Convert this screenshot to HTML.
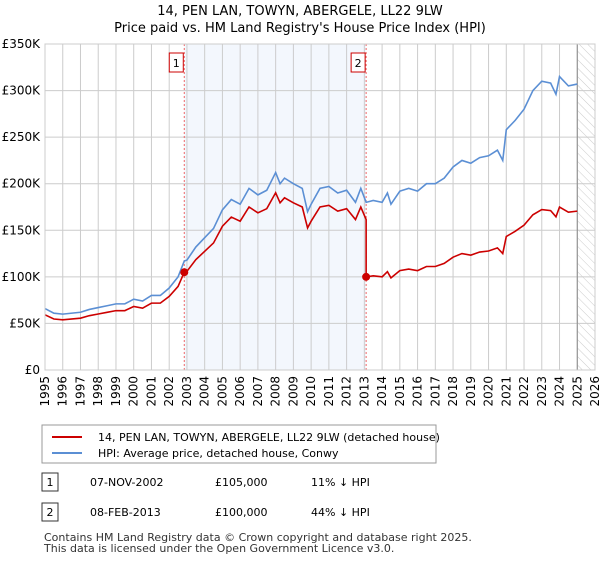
<!DOCTYPE html>
<html><head><meta charset="utf-8"><style>
body{margin:0;background:#fff;font-family:"Liberation Sans","DejaVu Sans",sans-serif;}
svg text{font-family:"DejaVu Sans","Liberation Sans",sans-serif;}
</style></head><body>
<svg id="c" width="600" height="560">
<defs><pattern id="hatch" width="6" height="6" patternUnits="userSpaceOnUse" patternTransform="rotate(-45)"><line x1="0" y1="0" x2="0" y2="6" stroke="#ccc" stroke-width="1"/></pattern></defs>
<text x="300" y="15" text-anchor="middle" font-size="13">14, PEN LAN, TOWYN, ABERGELE, LL22 9LW</text>
<text x="300" y="32" text-anchor="middle" font-size="13">Price paid vs. HM Land Registry's House Price Index (HPI)</text>
<g id="plot"></g>
<rect x="42" y="425" width="394" height="38" fill="#fff" stroke="#999"/>
<line x1="52" y1="437" x2="82" y2="437" stroke="#cc0000" stroke-width="2"/>
<text x="98" y="441" font-size="11">14, PEN LAN, TOWYN, ABERGELE, LL22 9LW (detached house)</text>
<line x1="52" y1="453" x2="82" y2="453" stroke="#5b8fd4" stroke-width="2"/>
<text x="98" y="457" font-size="11">HPI: Average price, detached house, Conwy</text>
<g font-size="11">
<rect x="42" y="473" width="16" height="18" fill="#fff" stroke="#333"/><text x="50" y="486" text-anchor="middle">1</text>
<text x="90" y="486">07-NOV-2002</text><text x="215" y="486">£105,000</text><text x="311" y="486">11% ↓ HPI</text>
<rect x="42" y="503" width="16" height="18" fill="#fff" stroke="#333"/><text x="50" y="516" text-anchor="middle">2</text>
<text x="90" y="516">08-FEB-2013</text><text x="215" y="516">£100,000</text><text x="311" y="516">44% ↓ HPI</text>
</g>
<text x="44" y="541" font-size="11" fill="#333">Contains HM Land Registry data © Crown copyright and database right 2025.</text>
<text x="44" y="552" font-size="11" fill="#333">This data is licensed under the Open Government Licence v3.0.</text>
</svg>
<script>
const hpiYears=[1995,1995.5,1996,1997,1997.5,1998,1998.5,1999,1999.5,2000,2000.5,2001,2001.5,2002,2002.5,2002.85,2003,2003.5,2004,2004.5,2005,2005.5,2006,2006.5,2007,2007.5,2008,2008.25,2008.5,2009,2009.5,2009.8,2010,2010.5,2011,2011.5,2012,2012.5,2012.8,2013.1,2013.5,2014,2014.3,2014.5,2015,2015.5,2016,2016.5,2017,2017.5,2018,2018.5,2019,2019.5,2020,2020.5,2020.8,2021,2021.5,2022,2022.5,2023,2023.5,2023.8,2024,2024.5,2025];
const hpiValues=[66,61,60,62,65,67,69,71,71,76,74,80,80,88,100,117,118,132,142,152,172,183,178,195,188,193,212,200,206,200,195,170,178,195,197,190,193,180,195,180,182,180,190,178,192,195,192,200,200,206,218,225,222,228,230,236,225,258,268,280,300,310,308,296,315,305,307];
const saleYears=[2002.85,2013.1];
const salePrices=[105,100];
const yTicks=[0,50,100,150,200,250,300,350];
const yTickLabels=["£0","£50K","£100K","£150K","£200K","£250K","£300K","£350K"];
const xTicks=[1995,1996,1997,1998,1999,2000,2001,2002,2003,2004,2005,2006,2007,2008,2009,2010,2011,2012,2013,2014,2015,2016,2017,2018,2019,2020,2021,2022,2023,2024,2025,2026];
const X0=45,X1=595,Y0=370,Y1=44;
const xs=y=>X0+(y-1995)/(2026-1995)*(X1-X0);
const ys=v=>Y0-v/350*(Y0-Y1);
const NS="http://www.w3.org/2000/svg";
const g=document.getElementById('plot');
function mk(t,a,p){const e=document.createElementNS(NS,t);for(const k in a)e.setAttribute(k,a[k]);(p||g).appendChild(e);return e;}
function hpiAt(y){for(let i=0;i<hpiYears.length-1;i++){if(y<=hpiYears[i+1]){const t=(y-hpiYears[i])/(hpiYears[i+1]-hpiYears[i]);return hpiValues[i]+t*(hpiValues[i+1]-hpiValues[i]);}}return hpiValues[hpiValues.length-1];}
let e=mk('rect',{x:xs(saleYears[0]),y:Y1,width:xs(saleYears[1])-xs(saleYears[0]),height:Y0-Y1,fill:'#eef3fc',opacity:0.7});

e=mk('rect',{x:xs(2025),y:Y1,width:X1-xs(2025),height:Y0-Y1,fill:'url(#hatch)'});

xTicks.forEach(t=>{const l=mk('line',{x1:xs(t),x2:xs(t),y1:Y1,y2:Y0,stroke:'#ccc'});

const tx=mk('text',{x:0,y:0,'font-size':12,'text-anchor':'end',transform:`translate(${xs(t)+4},${Y0+6}) rotate(-90)`});tx.textContent=t;
});
yTicks.forEach((t,i)=>{const l=mk('line',{x1:X0,x2:X1,y1:ys(t),y2:ys(t),stroke:'#ccc'});

const tx=mk('text',{x:X0-5,y:ys(t)+4,'font-size':12,'text-anchor':'end'});tx.textContent=yTickLabels[i];
});
e=mk('line',{x1:xs(2025),x2:xs(2025),y1:Y1,y2:Y0,stroke:'#888'});

saleYears.forEach((s,i)=>{const l=mk('line',{x1:xs(s),x2:xs(s),y1:Y1,y2:Y0,stroke:'#e66','stroke-dasharray':'2,2'});

const r=mk('rect',{x:xs(s)-15,y:53,width:14,height:19,fill:'#fff',stroke:'#cc0000'});

const t=mk('text',{x:xs(s)-8,y:67,'font-size':11,'text-anchor':'middle'});t.textContent=i+1;
});
const hp=hpiYears.map((y,i)=>xs(y)+','+ys(hpiValues[i])).join(' ');
e=mk('polyline',{points:hp,fill:'none',stroke:'#5b8fd4','stroke-width':1.6});

const r1=salePrices[0]/hpiAt(saleYears[0]),r2=salePrices[1]/hpiAt(saleYears[1]);
let pts=[];
hpiYears.forEach((y,i)=>{if(y<saleYears[1])pts.push([y,hpiValues[i]*r1]);});
pts.push([saleYears[1],hpiAt(saleYears[1])*r1]);pts.push([saleYears[1],salePrices[1]]);
hpiYears.forEach((y,i)=>{if(y>saleYears[1])pts.push([y,hpiValues[i]*r2]);});
e=mk('polyline',{points:pts.map(p=>xs(p[0])+','+ys(p[1])).join(' '),fill:'none',stroke:'#cc0000','stroke-width':1.6});

saleYears.forEach((s,i)=>{const c=mk('circle',{cx:xs(s),cy:ys(salePrices[i]),r:4,fill:'#cc0000'});
});
e=mk('rect',{x:X0,y:Y1,width:X1-X0,height:Y0-Y1,fill:'none',stroke:'#ccc'});

</script>
</body></html>
